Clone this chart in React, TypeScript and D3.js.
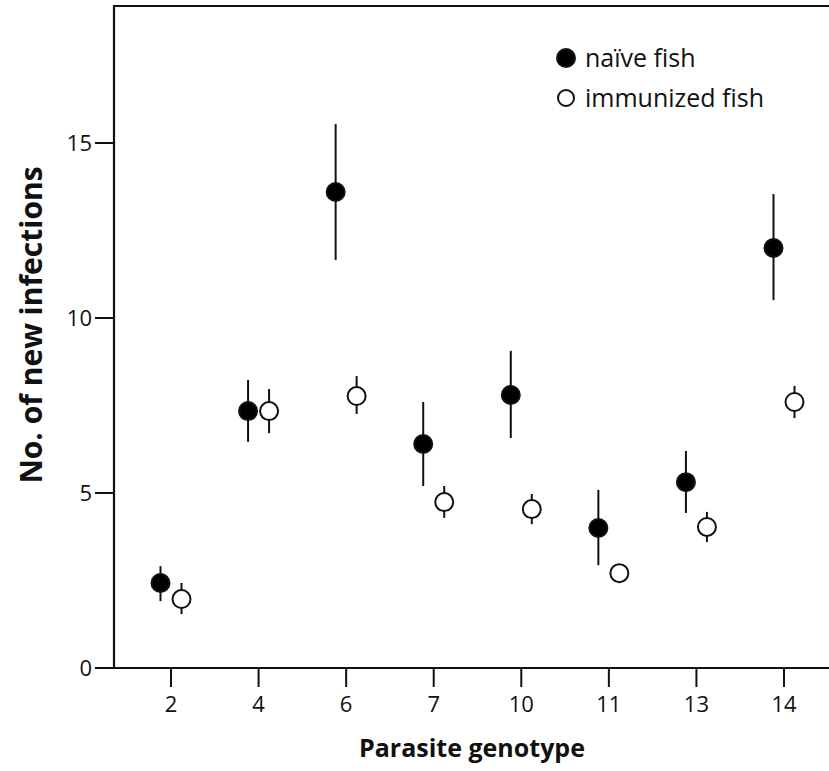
import React from "react";
import * as d3 from "d3";

const genotypes = ["2", "4", "6", "7", "10", "11", "13", "14"];
const naiveMean = [2.43, 7.34, 13.6, 6.4, 7.8, 4.0, 5.31, 12.0];
const naiveLow = [1.91, 6.46, 11.66, 5.2, 6.57, 2.94, 4.43, 10.51];
const naiveHigh = [2.91, 8.23, 15.54, 7.6, 9.06, 5.09, 6.2, 13.54];
const immMean = [1.97, 7.34, 7.77, 4.74, 4.54, 2.71, 4.03, 7.6];
const immLow = [1.54, 6.71, 7.26, 4.29, 4.11, 2.46, 3.6, 7.14];
const immHigh = [2.43, 7.97, 8.34, 5.2, 4.97, 2.97, 4.46, 8.06];
const yTicks = [0, 5, 10, 15];

const W = 829;
const H = 771;
const left = 114;
const bottom = 668;
const top = 6;

const FONT = "'Open Sans', 'Noto Sans', sans-serif";

export default function App() {
  const y = d3.scaleLinear().domain([0, 15]).range([bottom, bottom - 15 * 35]);
  const x = d3.scalePoint<string>().domain(genotypes).range([171, 784]);
  const off = 10.5;
  const r = 9;

  const series = [
    { mean: naiveMean, low: naiveLow, high: naiveHigh, dx: -off, fill: "#000" },
    { mean: immMean, low: immLow, high: immHigh, dx: off, fill: "#fff" },
  ];

  return (
    <svg
      width={W}
      height={H}
      style={{ position: "absolute", left: 0, top: 0, background: "#fff" }}
      fontFamily={FONT}
    >
      {/* frame */}
      <line x1={left} x2={W} y1={top} y2={top} stroke="#111" strokeWidth={2.2} />
      <line x1={left} x2={left} y1={top - 1} y2={bottom + 1} stroke="#111" strokeWidth={2.2} />
      <line x1={left} x2={W} y1={bottom} y2={bottom} stroke="#111" strokeWidth={2.2} />

      {/* y ticks */}
      {yTicks.map((t) => (
        <g key={t}>
          <line x1={left - 19} x2={left} y1={y(t)} y2={y(t)} stroke="#111" strokeWidth={2} />
          <text x={left - 22} y={y(t)} dy="0.36em" textAnchor="end" fontSize={22} fill="#111">
            {t}
          </text>
        </g>
      ))}

      {/* x ticks */}
      {genotypes.map((g) => (
        <g key={g}>
          <line x1={x(g)!} x2={x(g)!} y1={bottom} y2={bottom + 19} stroke="#111" strokeWidth={2} />
          <text x={x(g)!} y={712} textAnchor="middle" fontSize={22} fill="#111">
            {g}
          </text>
        </g>
      ))}

      {/* axis titles */}
      <text x={472} y={757} textAnchor="middle" fontSize={25} fontWeight="bold" fill="#111">
        Parasite genotype
      </text>
      <text
        transform={`translate(42, 325) rotate(-90)`}
        textAnchor="middle"
        fontSize={30}
        fontWeight="bold"
        fill="#111"
      >
        No. of new infections
      </text>

      {/* data */}
      {series.map((s, si) =>
        genotypes.map((g, i) => {
          const cx = x(g)! + s.dx;
          return (
            <g key={`${si}-${g}`}>
              <line x1={cx} x2={cx} y1={y(s.low[i])} y2={y(s.high[i])} stroke="#111" strokeWidth={2} />
              <circle cx={cx} cy={y(s.mean[i])} r={r} fill={s.fill} stroke="#111" strokeWidth={2} />
            </g>
          );
        })
      )}

      {/* legend */}
      <circle cx={566} cy={58} r={9} fill="#000" stroke="#111" strokeWidth={2} />
      <text x={585} y={58} dy="0.36em" fontSize={25} fill="#111">
        naïve fish
      </text>
      <circle cx={566} cy={98} r={8} fill="#fff" stroke="#111" strokeWidth={2} />
      <text x={585} y={98} dy="0.36em" fontSize={25} fill="#111">
        immunized fish
      </text>
    </svg>
  );
}
